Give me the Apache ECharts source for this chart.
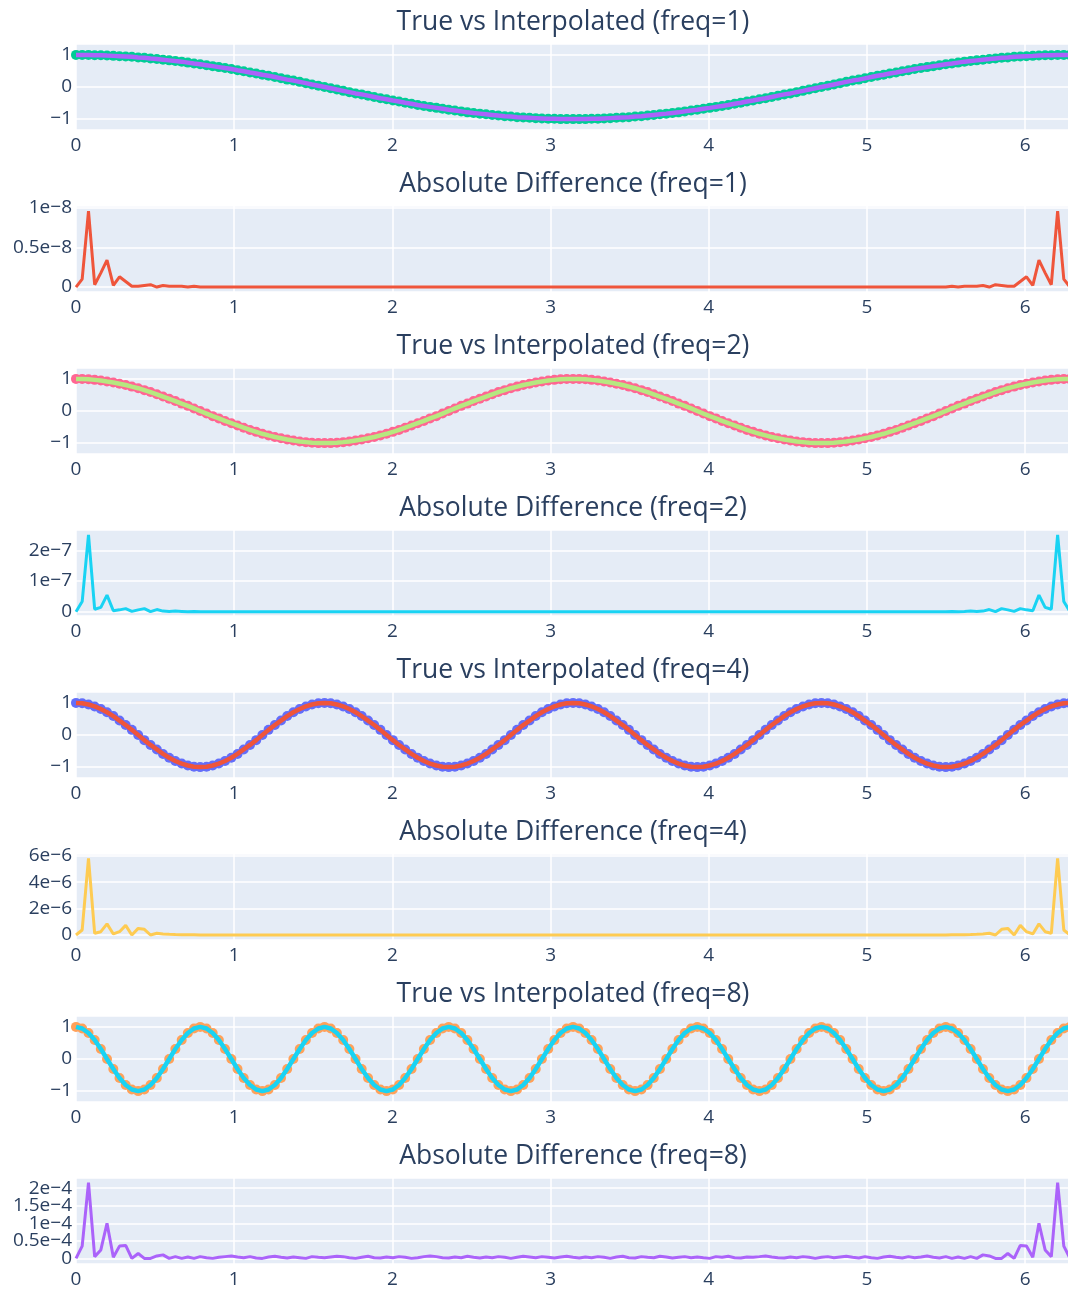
<!DOCTYPE html>
<html>
<head>
<meta charset="utf-8">
<title>True vs Interpolated</title>
<script src="https://cdn.jsdelivr.net/npm/echarts@6/dist/echarts.min.js"></script>
<style>
  html, body { margin: 0; padding: 0; background: #fff; overflow: hidden; }
  #chart { width: 1068px; height: 1289px; }
</style>
</head>
<body>
<div id="chart"></div>
<script>
// sample positions on [0, 2π]
const xs = [
  0,.039,.079,.118,.157,.196,.236,.275,.314,.353,
  .393,.432,.471,.511,.55,.589,.628,.668,.707,.746,
  .785,.825,.864,.903,.942,.982,1.021,1.06,1.1,1.139,
  1.178,1.217,1.257,1.296,1.335,1.374,1.414,1.453,1.492,1.532,
  1.571,1.61,1.649,1.689,1.728,1.767,1.806,1.846,1.885,1.924,
  1.963,2.003,2.042,2.081,2.121,2.16,2.199,2.238,2.278,2.317,
  2.356,2.395,2.435,2.474,2.513,2.553,2.592,2.631,2.67,2.71,
  2.749,2.788,2.827,2.867,2.906,2.945,2.985,3.024,3.063,3.102,
  3.142,3.181,3.22,3.259,3.299,3.338,3.377,3.416,3.456,3.495,
  3.534,3.574,3.613,3.652,3.691,3.731,3.77,3.809,3.848,3.888,
  3.927,3.966,4.006,4.045,4.084,4.123,4.163,4.202,4.241,4.28,
  4.32,4.359,4.398,4.437,4.477,4.516,4.555,4.595,4.634,4.673,
  4.712,4.752,4.791,4.83,4.869,4.909,4.948,4.987,5.027,5.066,
  5.105,5.144,5.184,5.223,5.262,5.301,5.341,5.38,5.419,5.458,
  5.498,5.537,5.576,5.616,5.655,5.694,5.733,5.773,5.812,5.851,
  5.89,5.93,5.969,6.008,6.048,6.087,6.126,6.165,6.205,6.244,
  6.283
];

// true / interpolated curves (the two overlap at this scale)
const curveF1 = [
  1,1,1,.99,.99,.98,.97,.96,.95,.94,
  .92,.91,.89,.87,.85,.83,.81,.79,.76,.73,
  .71,.68,.65,.62,.59,.56,.52,.49,.45,.42,
  .38,.35,.31,.27,.23,.2,.16,.12,.08,.04,
  0,-.04,-.08,-.12,-.16,-.2,-.23,-.27,-.31,-.35,
  -.38,-.42,-.45,-.49,-.52,-.56,-.59,-.62,-.65,-.68,
  -.71,-.73,-.76,-.79,-.81,-.83,-.85,-.87,-.89,-.91,
  -.92,-.94,-.95,-.96,-.97,-.98,-.99,-.99,-1,-1,
  -1,-1,-1,-.99,-.99,-.98,-.97,-.96,-.95,-.94,
  -.92,-.91,-.89,-.87,-.85,-.83,-.81,-.79,-.76,-.73,
  -.71,-.68,-.65,-.62,-.59,-.56,-.52,-.49,-.45,-.42,
  -.38,-.35,-.31,-.27,-.23,-.2,-.16,-.12,-.08,-.04,
  0,.04,.08,.12,.16,.2,.23,.27,.31,.35,
  .38,.42,.45,.49,.52,.56,.59,.62,.65,.68,
  .71,.73,.76,.79,.81,.83,.85,.87,.89,.91,
  .92,.94,.95,.96,.97,.98,.99,.99,1,1,
  1
];
const curveF2 = [
  1,1,.99,.97,.95,.92,.89,.85,.81,.76,
  .71,.65,.59,.52,.45,.38,.31,.23,.16,.08,
  0,-.08,-.16,-.23,-.31,-.38,-.45,-.52,-.59,-.65,
  -.71,-.76,-.81,-.85,-.89,-.92,-.95,-.97,-.99,-1,
  -1,-1,-.99,-.97,-.95,-.92,-.89,-.85,-.81,-.76,
  -.71,-.65,-.59,-.52,-.45,-.38,-.31,-.23,-.16,-.08,
  0,.08,.16,.23,.31,.38,.45,.52,.59,.65,
  .71,.76,.81,.85,.89,.92,.95,.97,.99,1,
  1,1,.99,.97,.95,.92,.89,.85,.81,.76,
  .71,.65,.59,.52,.45,.38,.31,.23,.16,.08,
  0,-.08,-.16,-.23,-.31,-.38,-.45,-.52,-.59,-.65,
  -.71,-.76,-.81,-.85,-.89,-.92,-.95,-.97,-.99,-1,
  -1,-1,-.99,-.97,-.95,-.92,-.89,-.85,-.81,-.76,
  -.71,-.65,-.59,-.52,-.45,-.38,-.31,-.23,-.16,-.08,
  0,.08,.16,.23,.31,.38,.45,.52,.59,.65,
  .71,.76,.81,.85,.89,.92,.95,.97,.99,1,
  1
];
const curveF4 = [
  1,.99,.95,.89,.81,.71,.59,.45,.31,.16,
  0,-.16,-.31,-.45,-.59,-.71,-.81,-.89,-.95,-.99,
  -1,-.99,-.95,-.89,-.81,-.71,-.59,-.45,-.31,-.16,
  0,.16,.31,.45,.59,.71,.81,.89,.95,.99,
  1,.99,.95,.89,.81,.71,.59,.45,.31,.16,
  0,-.16,-.31,-.45,-.59,-.71,-.81,-.89,-.95,-.99,
  -1,-.99,-.95,-.89,-.81,-.71,-.59,-.45,-.31,-.16,
  0,.16,.31,.45,.59,.71,.81,.89,.95,.99,
  1,.99,.95,.89,.81,.71,.59,.45,.31,.16,
  0,-.16,-.31,-.45,-.59,-.71,-.81,-.89,-.95,-.99,
  -1,-.99,-.95,-.89,-.81,-.71,-.59,-.45,-.31,-.16,
  0,.16,.31,.45,.59,.71,.81,.89,.95,.99,
  1,.99,.95,.89,.81,.71,.59,.45,.31,.16,
  0,-.16,-.31,-.45,-.59,-.71,-.81,-.89,-.95,-.99,
  -1,-.99,-.95,-.89,-.81,-.71,-.59,-.45,-.31,-.16,
  0,.16,.31,.45,.59,.71,.81,.89,.95,.99,
  1
];
const curveF8 = [
  1,.95,.81,.59,.31,0,-.31,-.59,-.81,-.95,
  -1,-.95,-.81,-.59,-.31,0,.31,.59,.81,.95,
  1,.95,.81,.59,.31,0,-.31,-.59,-.81,-.95,
  -1,-.95,-.81,-.59,-.31,0,.31,.59,.81,.95,
  1,.95,.81,.59,.31,0,-.31,-.59,-.81,-.95,
  -1,-.95,-.81,-.59,-.31,0,.31,.59,.81,.95,
  1,.95,.81,.59,.31,0,-.31,-.59,-.81,-.95,
  -1,-.95,-.81,-.59,-.31,0,.31,.59,.81,.95,
  1,.95,.81,.59,.31,0,-.31,-.59,-.81,-.95,
  -1,-.95,-.81,-.59,-.31,0,.31,.59,.81,.95,
  1,.95,.81,.59,.31,0,-.31,-.59,-.81,-.95,
  -1,-.95,-.81,-.59,-.31,0,.31,.59,.81,.95,
  1,.95,.81,.59,.31,0,-.31,-.59,-.81,-.95,
  -1,-.95,-.81,-.59,-.31,0,.31,.59,.81,.95,
  1,.95,.81,.59,.31,0,-.31,-.59,-.81,-.95,
  -1,-.95,-.81,-.59,-.31,0,.31,.59,.81,.95,
  1
];

// absolute differences, freq=1 in units of 1e-8
const diffF1 = [
  0,.1,.96,.03,.18,.34,.02,.13,.07,.01,
  .01,.02,.03,0,.02,.01,.01,.01,0,.01,
  0,0,0,0,0,0,0,0,0,0, 0,0,0,0,0,0,0,0,0,0,
  0,0,0,0,0,0,0,0,0,0, 0,0,0,0,0,0,0,0,0,0,
  0,0,0,0,0,0,0,0,0,0, 0,0,0,0,0,0,0,0,0,0,
  0,0,0,0,0,0,0,0,0,0, 0,0,0,0,0,0,0,0,0,0,
  0,0,0,0,0,0,0,0,0,0, 0,0,0,0,0,0,0,0,0,0,
  0,0,0,0,0,0,0,0,0,0, 0,0,0,0,0,0,0,0,0,0,
  0,.01,0,.01,.01,.01,.02,0,.03,.02,
  .01,.01,.07,.13,.02,.34,.18,.03,.96,.1,
  0
];
// freq=2 in units of 1e-7
const diffF2 = [
  0,.33,2.5,.08,.14,.54,.03,.06,.1,.01,
  .06,.1,0,.07,.02,.01,.02,.01,0,.01,
  0,0,0,0,0,0,0,0,0,0, 0,0,0,0,0,0,0,0,0,0,
  0,0,0,0,0,0,0,0,0,0, 0,0,0,0,0,0,0,0,0,0,
  0,0,0,0,0,0,0,0,0,0, 0,0,0,0,0,0,0,0,0,0,
  0,0,0,0,0,0,0,0,0,0, 0,0,0,0,0,0,0,0,0,0,
  0,0,0,0,0,0,0,0,0,0, 0,0,0,0,0,0,0,0,0,0,
  0,0,0,0,0,0,0,0,0,0, 0,0,0,0,0,0,0,0,0,0,
  0,.01,0,.01,.02,.01,.02,.07,0,.1,
  .06,.01,.1,.06,.03,.54,.14,.08,2.5,.33,
  0
];
// freq=4 in units of 1e-6
const diffF4 = [
  0,.38,5.8,.13,.25,.84,.08,.25,.73,0,
  .5,.43,0,.13,.08,.05,.03,.02,.01,.01,
  0,0,0,0,0,0,0,0,0,0, 0,0,0,0,0,0,0,0,0,0,
  0,0,0,0,0,0,0,0,0,0, 0,0,0,0,0,0,0,0,0,0,
  0,0,0,0,0,0,0,0,0,0, 0,0,0,0,0,0,0,0,0,0,
  0,0,0,0,0,0,0,0,0,0, 0,0,0,0,0,0,0,0,0,0,
  0,0,0,0,0,0,0,0,0,0, 0,0,0,0,0,0,0,0,0,0,
  0,0,0,0,0,0,0,0,0,0, 0,0,0,0,0,0,0,0,0,0,
  0,.01,.01,.02,.03,.05,.08,.13,0,.43,
  .5,0,.73,.25,.08,.84,.25,.13,5.8,.38,
  0
];
// freq=8 in units of 1e-4
const diffF8 = [
  0,.35,2.16,.05,.24,1,.03,.35,.37,0,
  .14,0,0,.07,.1,0,.05,0,.04,0,
  .05,.02,0,.03,.05,.07,.04,.02,.05,.01,
  0,.04,.06,.03,.01,.04,.02,0,.05,.03,
  .02,.04,.06,.05,.02,0,.03,.06,.02,.01,
  .04,.02,.05,.03,0,.02,.05,.07,.05,.02,
  .01,.04,.02,.06,.03,.01,.04,.02,.05,.03,
  0,.03,.06,.04,.02,.05,.03,.01,.04,.06,
  .03,.01,.04,.02,.05,.03,0,.04,.06,.02,
  .01,.05,.03,.02,.06,.04,.01,.03,.05,.02,
  .04,.02,0,.05,.03,.06,.02,.01,.04,.03,
  .05,.07,.04,.02,.01,.04,.02,.05,.03,0,
  .03,.05,.02,.04,.06,.03,.01,.05,.02,0,
  .04,.06,.03,.01,.05,.02,.04,.07,.03,.01,
  .05,0,.04,0,.05,0,.1,.07,0,0,
  .14,0,.37,.35,.03,1,.24,.05,2.16,.35,
  0
];

// axis ticks
const xTickVals = [0, 1, 2, 3, 4, 5, 6];
const curveTickVals = [-1, 0, 1];
const curveTickText = ['\u22121', '0', '1'];
const diffF1TickVals = [0, 0.5, 1];
const diffF1TickText = ['0', '0.5e\u22128', '1e\u22128'];
const diffF2TickVals = [0, 1, 2];
const diffF2TickText = ['0', '1e\u22127', '2e\u22127'];
const diffF4TickVals = [0, 2, 4, 6];
const diffF4TickText = ['0', '2e\u22126', '4e\u22126', '6e\u22126'];
const diffF8TickVals = [0, 0.5, 1, 1.5, 2];
const diffF8TickText = ['0', '0.5e\u22124', '1e\u22124', '1.5e\u22124', '2e\u22124'];

const panels = [
  { kind: 'curve', title: 'True vs Interpolated (freq=1)', ys: curveF1, marker: '#00cc96', line: '#ab63fa' },
  { kind: 'diff', title: 'Absolute Difference (freq=1)', ys: diffF1, line: '#ef553b',
    min: -0.0625, max: 1.025, split: 2, tv: diffF1TickVals, tt: diffF1TickText },
  { kind: 'curve', title: 'True vs Interpolated (freq=2)', ys: curveF2, marker: '#ff6692', line: '#b6e880' },
  { kind: 'diff', title: 'Absolute Difference (freq=2)', ys: diffF2, line: '#19d3f3',
    min: -0.14, max: 2.66, split: 3, tv: diffF2TickVals, tt: diffF2TickText },
  { kind: 'curve', title: 'True vs Interpolated (freq=4)', ys: curveF4, marker: '#636efa', line: '#ef553b' },
  { kind: 'diff', title: 'Absolute Difference (freq=4)', ys: diffF4, line: '#fecb52',
    min: -0.38, max: 6.14, split: 3, tv: diffF4TickVals, tt: diffF4TickText },
  { kind: 'curve', title: 'True vs Interpolated (freq=8)', ys: curveF8, marker: '#ffa15a', line: '#19d3f3' },
  { kind: 'diff', title: 'Absolute Difference (freq=8)', ys: diffF8, line: '#ab63fa',
    min: -0.16, max: 2.29, split: 5, tv: diffF8TickVals, tt: diffF8TickText }
];

const FONT = '"Open Sans", sans-serif';
const TEXT = '#2a3f5f';
const PLOT_TOP = 44, PITCH = 162, PLOT_H = 86, PLOT_LEFT = 76, PLOT_W = 994;

function lookup(vals, texts) {
  return (v) => {
    const i = vals.findIndex(t => Math.abs(t - v) < 1e-6);
    return i < 0 ? '' : texts[i];
  };
}

const title = [], grid = [], xAxis = [], yAxis = [], series = [];

panels.forEach((p, i) => {
  const top = PLOT_TOP + PITCH * i;
  title.push({
    text: p.title, left: PLOT_LEFT + PLOT_W / 2, top: top - 35, textAlign: 'center', padding: 0,
    textStyle: { fontFamily: FONT, fontSize: 26.5, fontWeight: 'normal', color: TEXT }
  });
  grid.push({
    left: PLOT_LEFT, top: top, width: PLOT_W, height: PLOT_H,
    outerBoundsMode: 'none', containLabel: false,
    show: true, backgroundColor: '#e5ecf6', borderWidth: 0
  });
  xAxis.push({
    type: 'value', gridIndex: i, min: 0, max: 6.2832, interval: 1,
    axisLine: { show: false }, axisTick: { show: false },
    axisLabel: { fontFamily: FONT, fontSize: 19, color: TEXT, margin: 6,
      formatter: lookup(xTickVals, xTickVals.map(String)) },
    splitLine: { lineStyle: { color: '#ffffff', width: 1.5 } }
  });
  const isCurve = p.kind === 'curve';
  yAxis.push({
    type: 'value', gridIndex: i,
    min: isCurve ? -1.34 : p.min, max: isCurve ? 1.34 : p.max,
    splitNumber: isCurve ? 2 : p.split,
    axisLine: { show: false }, axisTick: { show: false },
    axisLabel: { fontFamily: FONT, fontSize: 19, color: TEXT, margin: 4,
      formatter: isCurve ? lookup(curveTickVals, curveTickText) : lookup(p.tv, p.tt) },
    splitLine: { lineStyle: { color: '#ffffff', width: 1.5 } }
  });
  const data = xs.map((x, k) => [x, p.ys[k]]);
  if (isCurve) {
    series.push({
      name: 'True', type: 'scatter', xAxisIndex: i, yAxisIndex: i, data: data,
      symbolSize: 10, clip: true, itemStyle: { color: p.marker, opacity: 1 }, z: 2, silent: true
    });
    series.push({
      name: 'Interpolated', type: 'line', xAxisIndex: i, yAxisIndex: i, data: data,
      showSymbol: false, lineStyle: { color: p.line, width: 4.5 }, z: 3, silent: true
    });
  } else {
    series.push({
      name: 'Absolute Difference', type: 'line', xAxisIndex: i, yAxisIndex: i, data: data,
      showSymbol: false, lineStyle: { color: p.line, width: 3 }, z: 3, silent: true
    });
  }
});

const chart = echarts.init(document.getElementById('chart'), null, { renderer: 'canvas' });
chart.setOption({
  backgroundColor: '#ffffff',
  animation: false,
  title: title,
  grid: grid,
  xAxis: xAxis,
  yAxis: yAxis,
  series: series
});
</script>
</body>
</html>
